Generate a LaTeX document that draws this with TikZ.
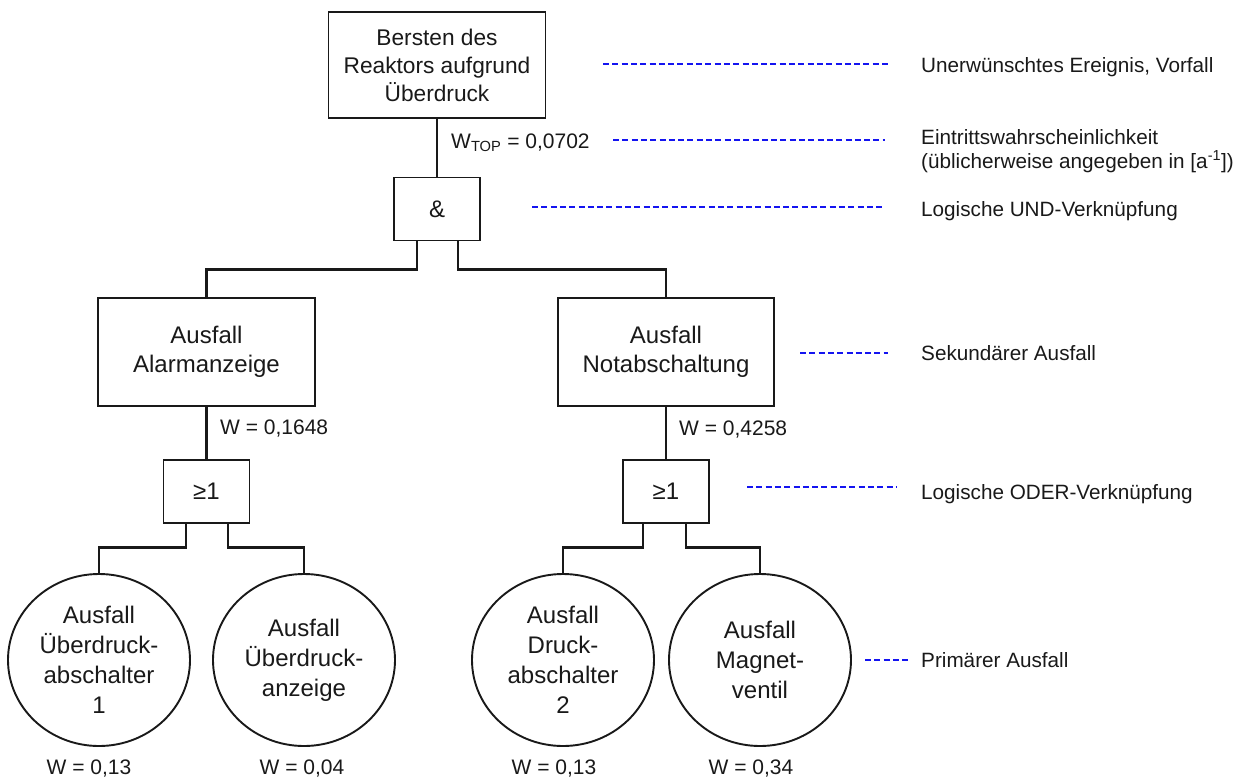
\documentclass[tikz,border=0pt]{standalone}
\usepackage{fontspec}
\setmainfont{Liberation Sans}
\usetikzlibrary{shapes.geometric}
\definecolor{ink}{RGB}{25,25,25}
\definecolor{leadblue}{RGB}{20,20,240}

\begin{document}
\begin{tikzpicture}[x=1pt,y=-1pt,
  every node/.style={text=ink, inner sep=0pt},
  evt/.style={draw=ink, line width=1.9pt, rectangle, align=center,
    font=\fontsize{24}{29}\selectfont},
  topevt/.style={evt, font=\fontsize{22.7}{28}\selectfont},
  gate/.style={draw=ink, line width=1.4pt, rectangle, minimum width=86pt,
    minimum height=63pt, font=\fontsize{24}{29}\selectfont},
  basic/.style={draw=ink, line width=1.9pt, ellipse, minimum width=182pt,
    minimum height=172pt, align=center, font=\fontsize{24}{30}\selectfont},
  link/.style={draw=ink, line width=2.8pt},
  prob/.style={font=\fontsize{21}{25}\selectfont},
  note/.style={font=\fontsize{20.7}{24.3}\selectfont, align=left, anchor=base west},
  leader/.style={draw=leadblue, line width=2.5pt, dash pattern=on 6pt off 3.3pt}
]
\useasboundingbox (0,0) rectangle (1248,780);

% events and gates
\node[topevt, minimum width=217pt, minimum height=106pt] (top) at (437,65)
  {Bersten des\\Reaktors aufgrund\\Überdruck};
\node[gate] (and) at (437,209) {\&};
\node[evt, minimum width=217pt, minimum height=108pt] (alarm) at (206.5,352)
  {Ausfall\\Alarmanzeige};
\node[evt, minimum width=216pt, minimum height=108pt] (nota) at (666,352)
  {Ausfall\\Notabschaltung};
\node[gate] (orL) at (206.5,491.5) {≥1};
\node[gate] (orR) at (666,491.5) {≥1};
\node[basic] (b1) at (99,660) {Ausfall\\Überdruck-\\abschalter\\1};
\node[basic] (b2) at (304,660) {Ausfall\\Überdruck-\\anzeige};
\node[basic] (b3) at (563,660) {Ausfall\\Druck-\\abschalter\\2};
\node[basic] (b4) at (760,660) {Ausfall\\Magnet-\\ventil};

% tree connectors
\draw[link] (top.south) -- (and.north);
\draw[link] ([xshift=-20pt]and.south) -- ++(0,28) -| (alarm.north);
\draw[link] ([xshift=21pt]and.south) -- ++(0,28) -| (nota.north);
\draw[link] (alarm.south) -- (orL.north);
\draw[link] (nota.south) -- (orR.north);
\draw[link] ([xshift=-20.5pt]orL.south) -- ++(0,24) -| (b1.north);
\draw[link] ([xshift=21.5pt]orL.south) -- ++(0,24) -| (b2.north);
\draw[link] ([xshift=-23pt]orR.south) -- ++(0,24) -| (b3.north);
\draw[link] ([xshift=20pt]orR.south) -- ++(0,24) -| (b4.north);

% probabilities
\node[prob, anchor=base west] (wtop) at (451,148.5) {W\textsubscript{TOP} = 0,0702};
\node[prob, anchor=base west] (wal) at (220,434.5) {W = 0,1648};
\node[prob, anchor=base west] (wno) at (679,435) {W = 0,4258};
\node[prob, anchor=base] (w1) at (89,774.5) {W = 0,13};
\node[prob, anchor=base] (w2) at (302,774.5) {W = 0,04};
\node[prob, anchor=base] (w3) at (554,774.5) {W = 0,13};
\node[prob, anchor=base] (w4) at (751,774.5) {W = 0,34};

% legend (base of a multi-line note is its last line)
\node[note] (n1) at (921,72.7) {Unerwünschtes Ereignis, Vorfall};
\node[note] (n2) at (921,168.3) {Eintrittswahrscheinlichkeit\\(üblicherweise angegeben in [a\textsuperscript{-1}])};
\node[note] (n3) at (921,216.7) {Logische UND-Verknüpfung};
\node[note] (n4) at (921,360.7) {Sekundärer Ausfall};
\node[note] (n5) at (921,499) {Logische ODER-Verknüpfung};
\node[note] (n6) at (921,667.3) {Primärer Ausfall};

\coordinate (d1a) at (603,64);  \coordinate (d1b) at (889,64);
\coordinate (d2a) at (613,140); \coordinate (d2b) at (885,140);
\coordinate (d3a) at (532,207); \coordinate (d3b) at (885,207);
\coordinate (d4a) at (800,353); \coordinate (d4b) at (888,353);
\coordinate (d5a) at (747,487); \coordinate (d5b) at (897,487);
\coordinate (d6a) at (865,660); \coordinate (d6b) at (908,660);
\foreach \i in {1,...,6} \draw[leader] (d\i a) -- (d\i b);
\end{tikzpicture}
\end{document}
